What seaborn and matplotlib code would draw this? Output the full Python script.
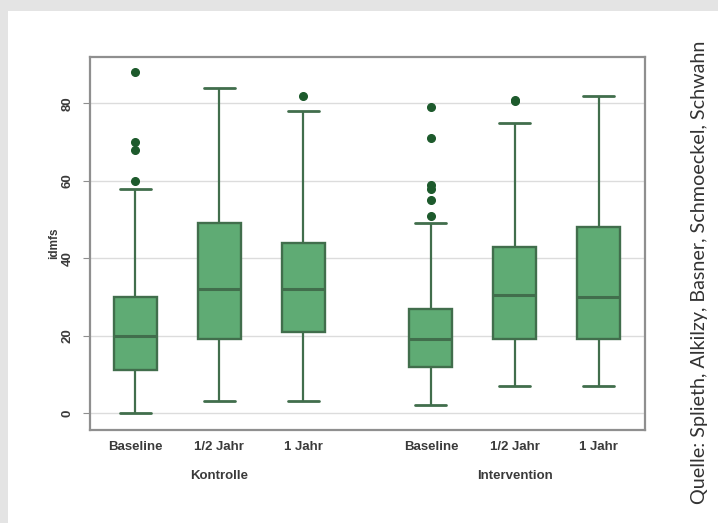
import numpy as np
import pandas as pd
import matplotlib
matplotlib.use("Agg")
import matplotlib.pyplot as plt
from matplotlib.patches import Rectangle
import seaborn as sns

# Five-number summaries (idmfs) per group and time point
groups = ["Kontrolle", "Intervention"]
times = ["Baseline", "1/2 Jahr", "1 Jahr"]
positions = [0.0, 1.0, 2.0, 3.52, 4.52, 5.52]
lows = [0, 3, 3, 2, 7, 7]
q1s = [11, 19, 21, 12, 19, 19]
medians = [20, 32, 32, 19, 30.5, 30]
q3s = [30, 49, 44, 27, 43, 48]
highs = [58, 84, 78, 49, 75, 82]
outliers = [[60, 68, 70, 88], [], [82], [51, 55, 58, 59, 71, 79], [80.5, 81], []]
y_ticks = [0, 20, 40, 60, 80]
source = "Quelle: Splieth, Alkilzy, Basner, Schmoeckel, Schwahn"


def summary_sample(lo, q1, med, q3, hi, extra, k=7):
    """Sorted 4k+1 values whose quartiles land exactly on q1/median/q3."""
    top = [q3] * (k - 1 - len(extra)) + [hi] + sorted(extra)
    return [lo] + [q1] * k + [med] * k + [q3] * k + top


rows = []
for i, pos in enumerate(positions):
    for v in summary_sample(lows[i], q1s[i], medians[i], q3s[i], highs[i], outliers[i]):
        rows.append({"pos": pos, "idmfs": v})
df = pd.DataFrame(rows)

sns.set_style("white")
plt.rcParams["font.family"] = ["Liberation Sans", "DejaVu Sans"]

fill = "#5fab74"
edge = "#416e4c"
dot = "#1d5a2c"
frame = "#8f8f8f"
text_col = "#3a3a3a"

fig = plt.figure(figsize=(7.18, 5.23), dpi=100)
fig.patch.set_facecolor("white")
# grey page border at top and left
fig.patches.append(Rectangle((0, 1 - 11 / 523), 1, 11 / 523, transform=fig.transFigure,
                             facecolor="#e4e4e4", edgecolor="none", zorder=0))
fig.patches.append(Rectangle((0, 0), 8 / 718, 1, transform=fig.transFigure,
                             facecolor="#e4e4e4", edgecolor="none", zorder=0))

ax = fig.add_axes([90 / 718, 1 - 430 / 523, (645 - 90) / 718, (430 - 57) / 523])

sns.boxplot(
    data=df, x="pos", y="idmfs", native_scale=True, ax=ax,
    width=0.51, color=fill, saturation=1, linecolor=edge, linewidth=1.7,
    fliersize=5.5, capwidths=0.37,
    flierprops=dict(marker="o", markerfacecolor=dot, markeredgecolor=dot),
    medianprops=dict(color=edge, linewidth=2.2),
    whiskerprops=dict(color=edge, linewidth=1.6),
    capprops=dict(color=edge, linewidth=2.0),
)

ax.set_xlim(-0.54, 6.07)
ax.set_ylim(-4.4, 92)
ax.set_yticks(y_ticks)
ax.set_yticklabels([str(t) for t in y_ticks], rotation=90, va="center",
                   fontsize=9.5, fontweight="bold", color=text_col)
ax.yaxis.grid(True, color="#dcdcdc", linewidth=1.0)
ax.set_axisbelow(True)
ax.tick_params(axis="y", length=5, width=0.8, color=frame, pad=7, left=True)
ax.set_xticks(positions)
ax.set_xticklabels(times * 2, fontsize=9.5, fontweight="bold", color=text_col)
ax.tick_params(axis="x", length=0, pad=8)
ax.set_xlabel("")
ax.set_ylabel("idmfs", fontsize=8.5, fontweight="bold", color=text_col, labelpad=1)
for sp in ax.spines.values():
    sp.set_color(frame)
    sp.set_linewidth(1.6)

for g, name in enumerate(groups):
    ax.annotate(name, xy=(positions[3 * g + 1], 0), xycoords=("data", "axes fraction"),
                xytext=(0, -33), textcoords="offset points", ha="center", va="center",
                fontsize=9.5, fontweight="bold", color=text_col)

fig.text(700 / 718, 1 - 272 / 523, source, rotation=90, ha="center", va="center",
         fontsize=14.2, color="#333333", family=["Lato", "DejaVu Sans"])

fig.savefig("out.png", dpi=100)
